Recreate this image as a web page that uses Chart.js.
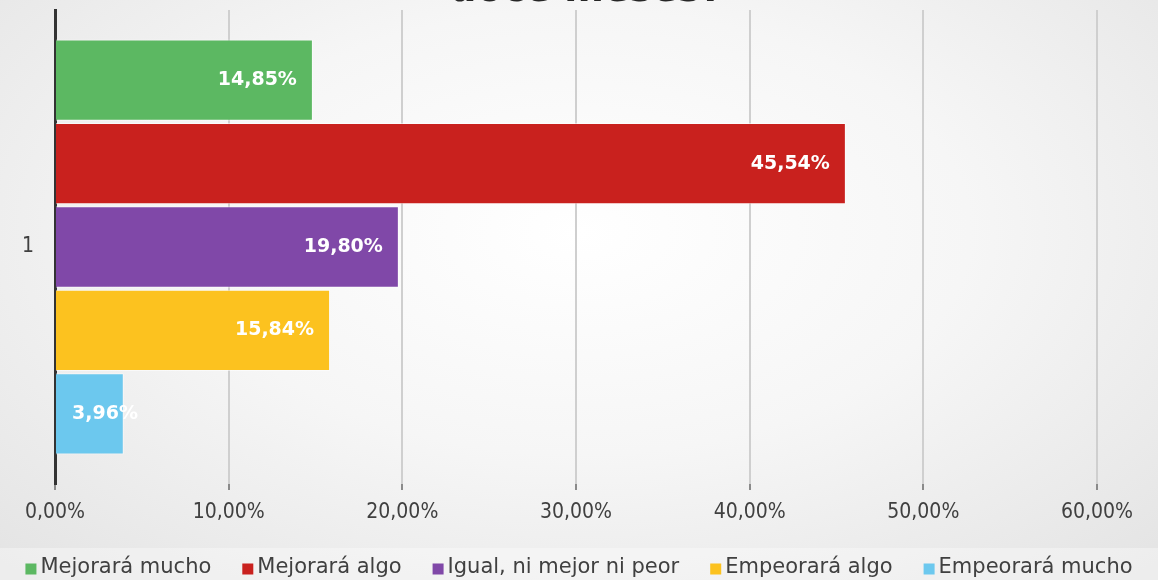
<!DOCTYPE html>
<html>
<head>
<meta charset="utf-8">
<script src="https://cdn.jsdelivr.net/npm/chart.js@4.4.1/dist/chart.umd.min.js"></script>
<style>
  html, body { margin: 0; padding: 0; }
  body {
    width: 1158px; height: 580px; overflow: hidden; position: relative;
    background: radial-gradient(ellipse 75% 85% at 50% 40%, #ffffff 0%, #f6f6f6 45%, #e2e2e2 100%);
  }
  #legendBand {
    position: absolute; left: 0; top: 548px; width: 1158px; height: 32px;
    background: rgba(255, 255, 255, 0.35);
  }
  #wrap { position: absolute; left: 0; top: 0; width: 1158px; height: 580px; }
</style>
</head>
<body>
<div id="legendBand"></div>
<div id="wrap"><canvas id="chart"></canvas></div>
<script>
const categories = ['1'];
const seriesNames = ['Mejorará mucho', 'Mejorará algo', 'Igual, ni mejor ni peor', 'Empeorará algo', 'Empeorará mucho'];
const seriesValues = [14.85, 45.54, 19.80, 15.84, 3.96];
const seriesColors = ['#5cb862', '#c9211e', '#8048a8', '#fcc21f', '#6cc8ee'];
const xTicks = [0, 10, 20, 30, 40, 50, 60];
const titleText = 'doce meses?';

const condensed = "'DejaVu Sans Condensed', 'Liberation Sans Narrow', 'DejaVu Sans', sans-serif";
const regular = "'DejaVu Sans', sans-serif";

const pct = v => v.toFixed(2).replace('.', ',') + '%';

// title is cut off at the top edge in the original
const cutTitle = {
  id: 'cutTitle',
  afterDraw(chart) {
    const ctx = chart.ctx;
    ctx.save();
    ctx.font = "bold 38px " + regular;
    ctx.fillStyle = '#262626';
    ctx.textAlign = 'center';
    ctx.textBaseline = 'alphabetic';
    ctx.fillText(titleText, 586, 1);
    ctx.restore();
  }
};

// values written inside the bar end, in white
const barLabels = {
  id: 'barLabels',
  afterDatasetsDraw(chart) {
    const ctx = chart.ctx;
    ctx.save();
    ctx.font = "bold 19px " + regular;
    ctx.fillStyle = '#ffffff';
    ctx.textAlign = 'right';
    ctx.textBaseline = 'middle';
    chart.data.datasets.forEach((ds, i) => {
      chart.getDatasetMeta(i).data.forEach((bar, j) => {
        const txt = pct(ds.data[j]);
        const w = ctx.measureText(txt).width;
        const right = Math.max(bar.x - 16, bar.base + 16 + w);
        ctx.fillText(txt, right, bar.y);
      });
    });
    ctx.restore();
  }
};

// legend strip along the bottom: small square, tight gap, then the name
const stripLegend = {
  id: 'stripLegend',
  afterDraw(chart) {
    const ctx = chart.ctx;
    const box = 11, gap = 4, between = 31, cy = 568;
    ctx.save();
    ctx.font = "21px " + regular;
    ctx.textBaseline = 'middle';
    ctx.textAlign = 'left';
    const items = chart.data.datasets.map(ds => ({
      text: ds.label, color: ds.backgroundColor, w: ctx.measureText(ds.label).width
    }));
    const total = items.reduce((s, it) => s + box + gap + it.w, 0) + between * (items.length - 1);
    let x = (chart.width - total) / 2;
    items.forEach(it => {
      ctx.fillStyle = it.color;
      ctx.fillRect(x, cy - box / 2 + 1, box, box);
      ctx.fillStyle = '#404040';
      ctx.fillText(it.text, x + box + gap, cy);
      x += box + gap + it.w + between;
    });
    ctx.restore();
  }
};

new Chart(document.getElementById('chart'), {
  type: 'bar',
  data: {
    labels: categories,
    datasets: seriesNames.map((name, i) => ({
      label: name,
      data: [seriesValues[i]],
      backgroundColor: seriesColors[i],
      borderColor: 'rgba(255,255,255,0.55)',
      borderWidth: 1,
      barPercentage: 0.975,
      categoryPercentage: 0.88
    }))
  },
  options: {
    indexAxis: 'y',
    responsive: true,
    maintainAspectRatio: false,
    animation: false,
    layout: { padding: { left: 0, top: 10, right: 61, bottom: 32 } },
    scales: {
      x: {
        min: xTicks[0],
        max: xTicks[xTicks.length - 1],
        afterBuildTicks: scale => { scale.ticks = xTicks.map(v => ({ value: v })); },
        afterFit: scale => { scale.height = 64; },
        border: { display: false },
        grid: { color: '#cfcfcf', lineWidth: 2, tickLength: 6, tickColor: '#8a8a8a' },
        ticks: {
          padding: 10,
          color: '#404040',
          font: { family: condensed, size: 21 },
          maxRotation: 0,
          callback: v => pct(v)
        }
      },
      y: {
        afterFit: scale => {
          scale.width = 55;
          scale.paddingTop = 0;
          scale.paddingBottom = 0;
        },
        border: { display: true, color: '#333333', width: 3 },
        grid: { display: false, drawTicks: false },
        ticks: { padding: 21, color: '#404040', font: { family: condensed, size: 21 } }
      }
    },
    plugins: {
      legend: { display: false },
      tooltip: { enabled: false }
    }
  },
  plugins: [cutTitle, barLabels, stripLegend]
});
</script>
</body>
</html>
